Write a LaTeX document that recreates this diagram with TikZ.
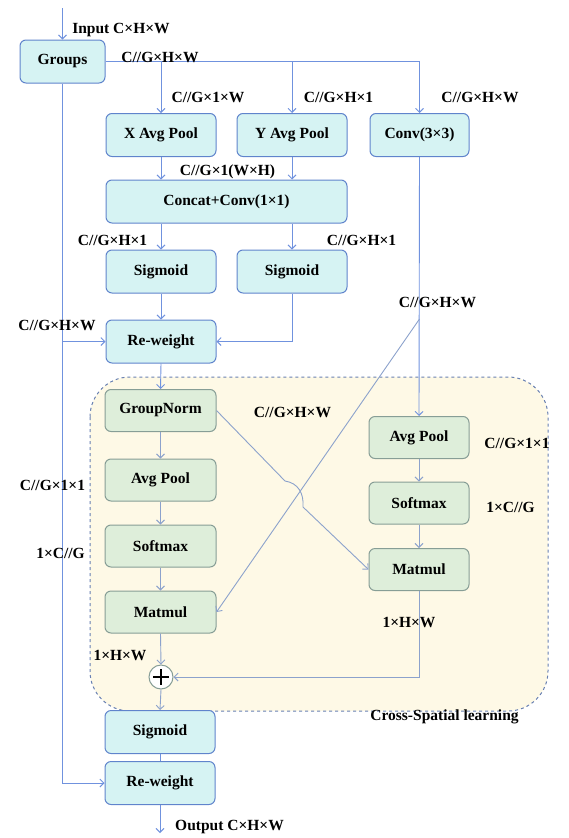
\documentclass[tikz,border=0pt]{standalone}
\usepackage{fontspec}
\setmainfont{Liberation Serif}
\usepackage{xcolor}
\usetikzlibrary{arrows.meta, positioning, calc}

\definecolor{cyanfill}{RGB}{214,243,243}
\definecolor{cyanedge}{RGB}{96,132,204}
\definecolor{greenfill}{RGB}{222,238,218}
\definecolor{greenedge}{RGB}{135,158,150}
\definecolor{flowline}{RGB}{112,146,222}
\definecolor{innerline}{RGB}{140,162,204}
\definecolor{zoneedge}{RGB}{104,128,178}
\definecolor{zonefill}{RGB}{254,249,230}

\tikzset{
  cbox/.style={draw=cyanedge, fill=cyanfill, line width=1pt, rounded corners=6pt,
    minimum width=110pt, minimum height=43pt, font=\fontsize{15.5}{18}\selectfont\bfseries},
  gbox/.style={draw=greenedge, fill=greenfill, line width=1pt, rounded corners=6pt,
    minimum width=111pt, minimum height=42pt, font=\fontsize{15.5}{18}\selectfont\bfseries},
  dimtxt/.style={font=\fontsize{15.5}{18}\selectfont\bfseries, inner sep=0pt},
  flow/.style={draw=flowline, line width=0.9pt, -{Straight Barb[length=4pt,width=8pt]}},
  inflow/.style={draw=innerline, line width=0.9pt, -{Straight Barb[length=4pt,width=8pt]}},
}

\begin{document}
\begin{tikzpicture}[x=1pt, y=-1pt]
  \useasboundingbox (0,0) rectangle (568,838);

  % ── Cross-spatial zone ──
  \draw[zoneedge, fill=zonefill, dashed, line width=1pt, rounded corners=40pt]
    (90,377) rectangle (548,711);
  \node[dimtxt] (zonelbl) at (444.5,717) {Cross-Spatial learning};

  % ── Top part ──
  \coordinate (inp) at (62.5,8);
  \node[cbox, minimum width=85pt] (groups) at (62.5,61.5) {Groups};
  \node[cbox] (xpool) at (161,135) {X Avg Pool};
  \node[cbox] (ypool) at (292,135) {Y Avg Pool};
  \node[cbox, minimum width=99pt] (conv) at (419.5,135) {Conv(3×3)};
  \node[cbox, minimum width=241pt] (concat) at (226.5,201.5) {Concat+Conv(1×1)};
  \node[cbox] (sigx) at (161,271.5) {Sigmoid};
  \node[cbox] (sigy) at (292,271.5) {Sigmoid};
  \node[cbox] (rwa) at (161,341.5) {Re-weight};

  % ── Inner part ──
  \node[gbox] (gnorm) at (160.5,410.5) {GroupNorm};
  \node[gbox] (apl) at (160.5,480) {Avg Pool};
  \node[gbox] (sml) at (160.5,546) {Softmax};
  \node[gbox] (mml) at (160.5,612) {Matmul};
  \node[gbox, minimum width=100pt] (apr) at (419,437.5) {Avg Pool};
  \node[gbox, minimum width=100pt] (smr) at (419,503) {Softmax};
  \node[gbox, minimum width=100pt] (mmr) at (419,569.5) {Matmul};
  \node[circle, draw=greenedge, fill=white, line width=1pt, minimum size=24pt, inner sep=0pt] (plus) at (161,677) {};
  \draw[line width=1.2pt] ($(plus)+(-8,0)$) -- ($(plus)+(8,0)$) ($(plus)+(0,-8)$) -- ($(plus)+(0,8)$);

  % ── Bottom part ──
  \node[cbox] (sigo) at (160,732) {Sigmoid};
  \node[cbox] (rwo) at (160,783) {Re-weight};
  \coordinate (outp) at (160,833);

  % ── Connectors ──
  \draw[flow] (inp) -- (groups.north);
  \draw[flow] (groups.east) -| (conv.north);
  \draw[flow] (groups.east -| xpool) -- (xpool.north);
  \draw[flow] (groups.east -| ypool) -- (ypool.north);
  \draw[flow] (xpool.south) -- (xpool |- concat.north);
  \draw[flow] (ypool.south) -- (ypool |- concat.north);
  \draw[flow] (concat.south -| sigx) -- (sigx.north);
  \draw[flow] (concat.south -| sigy) -- (sigy.north);
  \draw[flow] (sigx.south) -- (rwa.north);
  \draw[flow] (sigy.south) |- (rwa.east);
  \draw[flow] (groups.south) |- (rwo.west);
  \draw[flow] (groups.south |- rwa.west) -- (rwa.west);
  \draw[flow] (rwa.south) -- (gnorm.north);
  \draw[flow] (conv.south) -- (apr.north);
  \coordinate (tap) at (419.5,319);
  \draw[inflow] (tap) -- (mml.east);
  \draw[inflow] (gnorm.east) -- (285,481) .. controls (298,483) and (304,493) .. (303,507) -- (mmr.west);
  \draw[inflow] (gnorm.south) -- (apl.north);
  \draw[inflow] (apl.south) -- (sml.north);
  \draw[inflow] (sml.south) -- (mml.north);
  \draw[inflow] (apr.south) -- (smr.north);
  \draw[inflow] (smr.south) -- (mmr.north);
  \draw[inflow] (mml.south) -- (plus.north);
  \draw[inflow] (mmr.south) |- (plus.east);
  \draw[inflow] (plus.south) -- (sigo.north);
  \draw[draw=flowline, line width=0.9pt] (sigo.south) -- (rwo.north);
  \draw[flow] (rwo.south) -- (outp);

  % ── Dimension labels ──
  \node[dimtxt] (lin) at (121,30) {Input C×H×W};
  \node[dimtxt] (lgr) at (160,57) {C//G×H×W};
  \node[dimtxt] (lxp) at (208,97) {C//G×1×W};
  \node[dimtxt] (lyp) at (338.5,97) {C//G×H×1};
  \node[dimtxt] (lcv) at (480,97) {C//G×H×W};
  \node[dimtxt] (lcc) at (227.5,172) {C//G×1(W×H)};
  \node[dimtxt] (lsx) at (112.5,240) {C//G×H×1};
  \node[dimtxt] (lsy) at (361.5,240) {C//G×H×1};
  \node[dimtxt] (lrw) at (57,325) {C//G×H×W};
  \node[dimtxt] (ltp) at (437.5,302) {C//G×H×W};
  \node[dimtxt] (lgn) at (292.5,412) {C//G×H×W};
  \node[dimtxt] (lar) at (517,443) {C//G×1×1};
  \node[dimtxt] (lsr) at (510.5,507) {1×C//G};
  \node[dimtxt] (lal) at (52.5,485) {C//G×1×1};
  \node[dimtxt] (lsl) at (60.5,553) {1×C//G};
  \node[dimtxt] (lml) at (120,655) {1×H×W};
  \node[dimtxt] (lmr) at (409,622) {1×H×W};
  \node[dimtxt] (lout) at (229.5,827) {Output C×H×W};

\end{tikzpicture}
\end{document}
